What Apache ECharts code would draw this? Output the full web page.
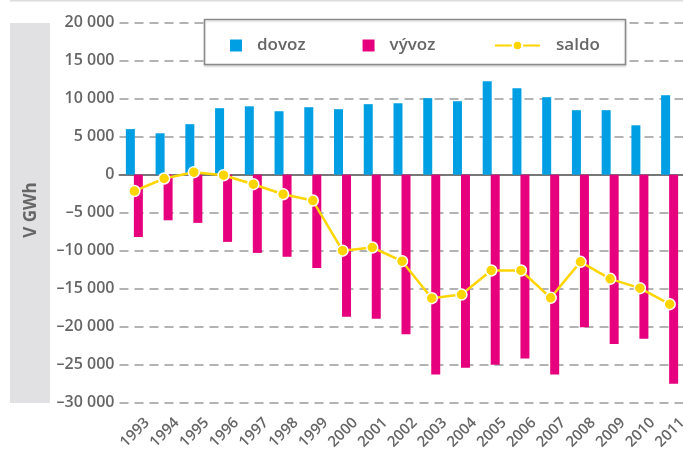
<!DOCTYPE html>
<html lang="cs">

<head>
    <meta charset="UTF-8">
    <title>dovoz-vyvoz</title>
    <script src="https://cdn.jsdelivr.net/npm/echarts@6/dist/echarts.min.js"></script>
    <style>
        html, body { margin: 0; padding: 0; background: #fff; }
        #main { width: 683px; height: 450px; }
    </style>
</head>

<body>
    <div id="main"></div>
    <script>
        // data (GWh)
        const years = ["1993", "1994", "1995", "1996", "1997", "1998", "1999", "2000", "2001", "2002",
            "2003", "2004", "2005", "2006", "2007", "2008", "2009", "2010", "2011"];
        const dovoz = [6000, 5450, 6650, 8750, 9000, 8350, 8880, 8620, 9280, 9400,
            10070, 9670, 12300, 11380, 10200, 8490, 8490, 6500, 10460];
        const vyvoz = [-8200, -6000, -6340, -8840, -10290, -10800, -12260, -18700, -18970, -20990,
            -26300, -25400, -25000, -24200, -26300, -20070, -22260, -21600, -27500];
        const saldo = [-2150, -500, 330, -70, -1250, -2570, -3400, -10000, -9580, -11380,
            -16250, -15770, -12600, -12600, -16200, -11470, -13700, -14930, -17040];
        const yTicks = [-30000, -25000, -20000, -15000, -10000, -5000, 0, 5000, 10000, 15000, 20000];

        const grey = "#666";
        const font = "'Open Sans', sans-serif";
        const weight = 600;

        function fmt(v) {
            const s = Math.abs(v).toString().replace(/\B(?=(\d{3})+(?!\d))/g, " ");
            return (v < 0 ? "\u2013" : "") + s;
        }

        const chart = echarts.init(document.getElementById("main"));

        const option = {
            animation: false,
            grid: { left: 119.5, top: 22.7, width: 565, height: 380, outerBoundsMode: "none", containLabel: false },
            graphic: [
                { type: "rect", z: 0, shape: { x: 10, y: 0, width: 673, height: 1.5 }, style: { fill: "#dcdcdc" } },
                { type: "rect", z: 0, shape: { x: 10, y: 23, width: 40, height: 380 }, style: { fill: "#e1e1e3" } },
                {
                    type: "text", z: 1, x: 31, y: 210, rotation: Math.PI / 2,
                    style: { text: "V GWh", fill: grey, font: "bold 17px " + font, align: "center", verticalAlign: "middle" }
                },
                {
                    type: "rect", z: 3, shape: { x: 204.5, y: 19.5, width: 421, height: 45 },
                    style: { fill: "#fff", stroke: "#8a8a8a", lineWidth: 1.5, shadowColor: "rgba(0,0,0,0.15)", shadowBlur: 2, shadowOffsetY: 1.5 }
                }
            ],
            legend: [
                {
                    data: [{ name: "dovoz", icon: "rect" }, { name: "vývoz", icon: "rect" }],
                    left: 230, top: 37, padding: 0, z: 5,
                    itemWidth: 12, itemHeight: 12, itemGap: 57,
                    textStyle: { color: grey, fontSize: 17, fontFamily: font, fontWeight: weight, padding: [0, 0, 0, 10] }
                },
                {
                    data: ["saldo"], left: 494, top: 37, padding: 0, z: 5,
                    itemWidth: 45, itemHeight: 12,
                    textStyle: { color: grey, fontSize: 17, fontFamily: font, fontWeight: weight, padding: [0, 0, 0, 11] }
                }
            ],
            xAxis: [
                {
                    type: "category", data: years, position: "bottom",
                    axisLine: { show: false, onZero: false }, axisTick: { show: false },
                    axisLabel: {
                        rotate: 45, margin: 5, color: grey, fontSize: 15, fontFamily: font, fontWeight: weight,
                        interval: 0, verticalAlign: "top", lineHeight: 16, padding: [10, 0, 0, 0]
                    }
                },
                {
                    type: "category", data: years, position: "bottom",
                    axisLine: { onZero: true, lineStyle: { color: "#777", width: 2 } },
                    axisTick: { length: 3, lineStyle: { color: "#777", width: 1.5 } },
                    axisLabel: { show: false }
                },
                {
                    type: "category", data: years, position: "top",
                    axisLine: { show: false, onZero: true },
                    axisTick: { length: 3, lineStyle: { color: "#777", width: 1.5 } },
                    axisLabel: { show: false }
                }
            ],
            yAxis: {
                type: "value", min: -30000, max: 20000, interval: 5000,
                axisLine: { show: false }, axisTick: { show: false },
                axisLabel: {
                    margin: 5, color: grey, fontSize: 16, fontFamily: font, fontWeight: weight,
                    formatter: (v) => yTicks.includes(v) ? fmt(v) : ""
                },
                splitLine: { lineStyle: { color: "#9a9a9a", width: 1.5, type: [9, 6] } }
            },
            series: [
                {
                    name: "dovoz", type: "bar", data: dovoz, barWidth: 9, barGap: "-11%",
                    itemStyle: { color: "#009fe3" }
                },
                {
                    name: "vývoz", type: "bar", data: vyvoz, barWidth: 9,
                    itemStyle: { color: "#e6007e" }
                },
                {
                    name: "saldo", type: "line", data: saldo, z: 4,
                    symbol: "circle", symbolSize: 11,
                    lineStyle: { color: "#ffd500", width: 2.5 },
                    itemStyle: { color: "#ffd500", borderColor: "#fff", borderWidth: 1.5 }
                }
            ]
        };

        chart.setOption(option);
    </script>
</body>

</html>
